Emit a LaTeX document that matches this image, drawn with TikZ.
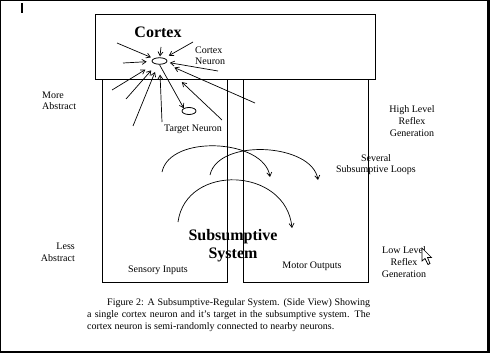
\documentclass[tikz,border=0pt]{standalone}
\usepackage{fontspec}
\setmainfont{Liberation Serif}
\usetikzlibrary{positioning, arrows.meta, shapes.geometric}

\begin{document}
\begin{tikzpicture}[
  x=1pt, y=-1pt,
  % --- Style definitions ---
  region/.style={draw, line width=0.8pt, inner sep=0pt},
  neuron/.style={draw, ellipse, line width=0.8pt, inner sep=0pt,
                 minimum width=15pt, minimum height=6.5pt},
  lbl/.style={font=\fontsize{10}{12}\selectfont, inner sep=0pt, align=center},
  lbltight/.style={lbl, font=\fontsize{10}{11}\selectfont},
  title/.style={font=\fontsize{16}{18}\selectfont\bfseries, inner sep=0pt, align=center},
  arr/.style={-{Straight Barb[length=4pt, width=5pt]}, line width=0.7pt},
]
\useasboundingbox (0,0) rectangle (490,353);

% ===== Screen frame =====
\draw[line width=0.8pt] (0.5,0.5) -- (488,0.5);
\draw[line width=0.8pt] (0.8,0) -- (0.8,352);
\draw[line width=3pt] (488.5,0) -- (488.5,353);
\draw[line width=2.5pt] (0,351.8) -- (490,351.8);
\draw[line width=2pt] (22,3.5) -- (22,13.5);

% ===== Nodes =====

% --- Regions ---
\node[region, minimum width=125pt, minimum height=203pt] (sensory) at (164.5,180.5) {};
\node[region, minimum width=125pt, minimum height=203pt, right=16pt of sensory] (motor) {};
\node[region, minimum width=280pt, minimum height=65pt] (cortex) at (235,46.5) {};

% --- Neurons ---
\node[neuron] (cn) at (159.5,61) {};
\node[neuron, minimum width=14pt, minimum height=7pt] (tn) at (189,111) {};

% --- Labels (multi-line ones sit on their last baseline) ---
\node[title, anchor=base] (ctxlbl) at (158,38) {Cortex};
\node[lbltight, anchor=base west, align=left] (cnlbl) at (195,65) {Cortex\\Neuron};
\node[lbl, anchor=base] (tnlbl) at (193,131) {Target Neuron};
\node[lbl, anchor=base west, align=left] (more) at (42,110) {More\\Abstract};
\node[lbl, anchor=base east, align=right] (less) at (75,261) {Less\\Abstract};
\node[lbl, anchor=base] (high) at (412,136) {High Level\\Reflex\\Generation};
\node[lbltight, anchor=base] (loops) at (376,172.5) {Several\\Subsumptive Loops};
\node[lbl, anchor=base] (low) at (404,277) {Low Level\\Reflex\\Generation};
\node[title, anchor=base] (subs) at (233,258) {Subsumptive\\System};
\node[lbl, anchor=base] (sens) at (158,272) {Sensory Inputs};
\node[lbl, anchor=base] (mot) at (312,268) {Motor Outputs};
\node[lbl, anchor=base west, text width=283pt, align=justify] (caption) at (87,305)
  {\hspace*{20pt}Figure 2: A Subsumptive-Regular System.  (Side View) Showing\linebreak
   a single cortex neuron and it’s target in the subsumptive system.  The\linebreak
   cortex neuron is semi-randomly connected to nearby neurons.};

% --- Free ends of the connections ---
\coordinate (a1) at (117,43);
\coordinate (a2) at (123,63);
\coordinate (a3) at (112,90);
\coordinate (a4) at (126,99);
\coordinate (a5) at (133,126);
\coordinate (a6) at (162,122);
\coordinate (a7) at (161,47);
\coordinate (a8) at (193,42);
\coordinate (a9) at (218,71);
\coordinate (a10) at (255,103);
\coordinate (a11) at (222,120);

\coordinate (l1s) at (162,172); \coordinate (l1e) at (270,177);
\coordinate (l2s) at (210,175); \coordinate (l2e) at (318,180);
\coordinate (l3s) at (178,222); \coordinate (l3e) at (292,228);

% ===== Arrows =====

% Connections into the cortex neuron
\draw[arr, shorten >=3pt] (a1) -- (cn);
\draw[arr, shorten >=5pt] (a2) -- (cn);
\draw[arr, shorten >=11pt] (a3) -- (cn);
\draw[arr, shorten >=8pt] (a4) -- (cn);
\draw[arr, shorten >=8pt] (a5) -- (cn);
\draw[arr, shorten >=10pt] (a6) -- (cn);
\draw[arr, shorten >=1pt] (a7) -- (cn);
\draw[arr, shorten >=5pt] (a8) -- (cn);
\draw[arr, shorten >=3pt] (a9) -- (cn);
\draw[arr, shorten >=10pt] (a10) -- (cn);
\draw[arr, shorten >=26pt] (a11) -- (cn);

% Cortex neuron to its target
\draw[arr] (cn.south) -- (tn.north west);

% Subsumptive loops
\draw[arr] (l1s) .. controls +(8,-38) and +(-6,-38) .. (l1e);
\draw[arr] (l2s) .. controls +(8,-37) and +(-6,-37) .. (l2e);
\draw[arr] (l3s) .. controls +(8,-59) and +(-6,-61) .. (l3e);

% ===== Mouse pointer =====
\filldraw[fill=white, line width=0.7pt] (422,248) -- (422,261) -- (425,258.5) -- (428,264.5)
  -- (430,263.5) -- (427.5,257.5) -- (431.5,257.5) -- cycle;

\end{tikzpicture}
\end{document}
